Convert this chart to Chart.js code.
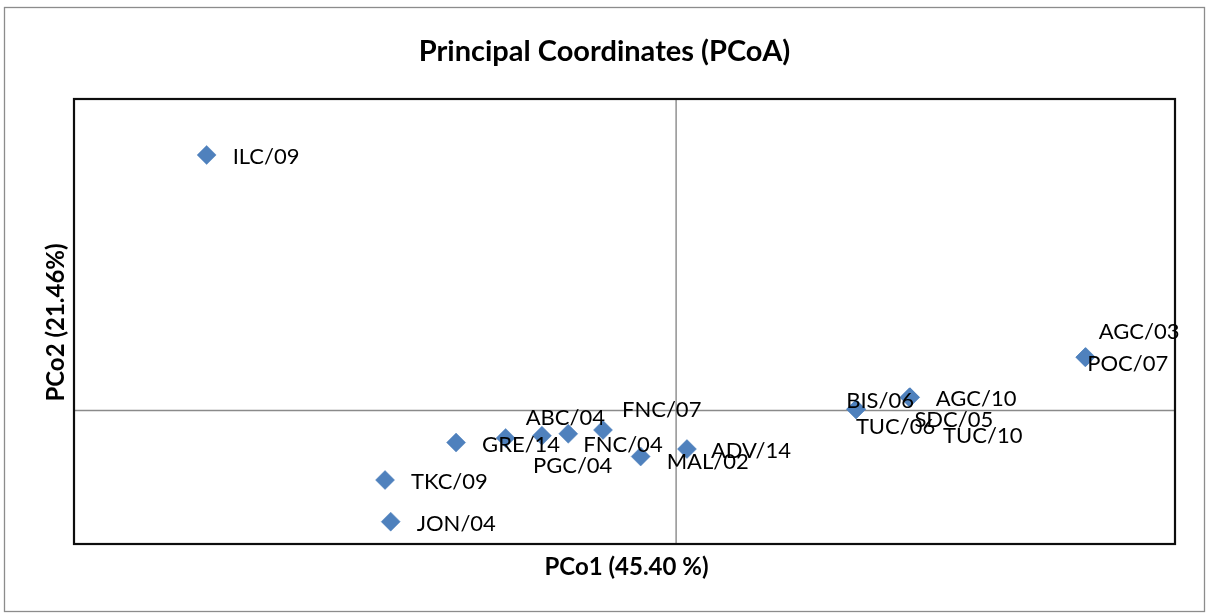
<!DOCTYPE html>
<html>
<head>
<meta charset="utf-8">
<script src="https://cdn.jsdelivr.net/npm/chart.js@4/dist/chart.umd.min.js"></script>
<style>
  html, body { margin: 0; padding: 0; background: #fff; }
  #wrap { width: 1207px; height: 614px; }
</style>
</head>
<body>
<div id="wrap"><canvas id="pcoa" width="1207" height="614"></canvas></div>
<script>
// Sample codes and their principal coordinate scores
const sampleLabels = ['ILC/09', 'AGC/03', 'POC/07', 'BIS/06', 'TUC/06', 'AGC/10', 'SDC/05', 'TUC/10',
  'GRE/14', 'ABC/04', 'PGC/04', 'FNC/04', 'FNC/07', 'MAL/02', 'ADV/14', 'TKC/09', 'JON/04'];
const pco1 = [-0.2729, 0.2381, 0.2378, 0.1047, 0.1045, 0.1358, 0.1356, 0.1360,
  -0.1279, -0.0991, -0.0780, -0.0627, -0.0425, -0.0206, 0.0063, -0.1692, -0.1659];
const pco2 = [0.2871, 0.0601, 0.0598, 0.0015, 0.0013, 0.0148, 0.0146, 0.0149,
  -0.0360, -0.0309, -0.0283, -0.0262, -0.0219, -0.0517, -0.0433, -0.0781, -0.1249];

// Axis ranges and titles
const pco1Range = [-0.35, 0.29];
const pco2Range = [-0.15, 0.35];
const chartTitle = 'Principal Coordinates (PCoA)';
const pco1Title = 'PCo1 (45.40 %)';
const pco2Title = 'PCo2 (21.46%)';

// Nudges (px) for point labels that were moved off their default spot to the right of the marker
const labelNudges = [[0, 0], [-13, -27], [-24, 5], [-36, -10], [-26, 16], [0, 0], [-21, 20], [7, 37],
  [0, 0], [-6, -22], [-35, 28], [-11, 9], [-7, -22], [0, 3], [-2, 0], [0, 0], [0, 0]];

const points = pco1.map((v, i) => ({ x: v, y: pco2[i] }));

const LABEL_FONT = '22px Lato';
const decorations = {
  id: 'decorations',
  beforeDraw(chart) {
    const { ctx, width, height } = chart;
    ctx.save();
    ctx.fillStyle = '#ffffff';
    ctx.fillRect(0, 0, width, height);
    ctx.strokeStyle = '#8c8c8c';
    ctx.lineWidth = 1.3;
    ctx.strokeRect(4.5, 7.5, 1200, 604);
    ctx.restore();
  },
  beforeDatasetsDraw(chart) {
    const { ctx, chartArea: a, scales } = chart;
    const x0 = scales.x.getPixelForValue(0);
    const y0 = scales.y.getPixelForValue(0);
    ctx.save();
    // zero lines
    ctx.strokeStyle = '#8a8a8a';
    ctx.lineWidth = 1.4;
    ctx.beginPath();
    ctx.moveTo(a.left, y0); ctx.lineTo(a.right, y0);
    ctx.moveTo(x0, a.top); ctx.lineTo(x0, a.bottom);
    ctx.stroke();
    // plot area frame
    ctx.strokeStyle = '#0d0d0d';
    ctx.lineWidth = 2.2;
    ctx.strokeRect(a.left, a.top, a.right - a.left, a.bottom - a.top);
    // titles
    ctx.fillStyle = '#000';
    ctx.textAlign = 'center';
    ctx.textBaseline = 'alphabetic';
    ctx.font = '700 29px Lato';
    ctx.fillText(chartTitle, chart.width / 2 + 1, 61);
    ctx.font = '700 24px Lato';
    ctx.fillText(pco1Title, (a.left + a.right) / 2 + 2, 575);
    ctx.translate(64, (a.top + a.bottom) / 2 + 1);
    ctx.rotate(-Math.PI / 2);
    ctx.fillText(pco2Title, 0, 0);
    ctx.restore();
  },
  afterDatasetsDraw(chart) {
    const { ctx } = chart;
    const meta = chart.getDatasetMeta(0);
    ctx.save();
    ctx.font = LABEL_FONT;
    ctx.fillStyle = '#000';
    ctx.textAlign = 'left';
    ctx.textBaseline = 'alphabetic';
    meta.data.forEach((pt, i) => {
      const [dx, dy] = labelNudges[i];
      ctx.fillText(sampleLabels[i], pt.x + 26 + dx, pt.y + 1 + dy + 8);
    });
    ctx.restore();
  }
};

new Chart(document.getElementById('pcoa'), {
  type: 'scatter',
  data: {
    labels: sampleLabels,
    datasets: [{
      label: 'Samples',
      data: points,
      pointStyle: 'rectRot',
      pointRadius: 9.5,
      pointHoverRadius: 9.5,
      backgroundColor: '#4F81BD',
      borderColor: '#4F81BD',
      borderWidth: 0.5
    }]
  },
  options: {
    responsive: false,
    devicePixelRatio: 1,
    animation: false,
    layout: { padding: { left: 74, right: 32, top: 99, bottom: 70 } },
    plugins: { legend: { display: false }, title: { display: false }, tooltip: { enabled: false } },
    scales: {
      x: { type: 'linear', min: pco1Range[0], max: pco1Range[1], display: false },
      y: { type: 'linear', min: pco2Range[0], max: pco2Range[1], display: false }
    }
  },
  plugins: [decorations]
});
</script>
</body>
</html>
